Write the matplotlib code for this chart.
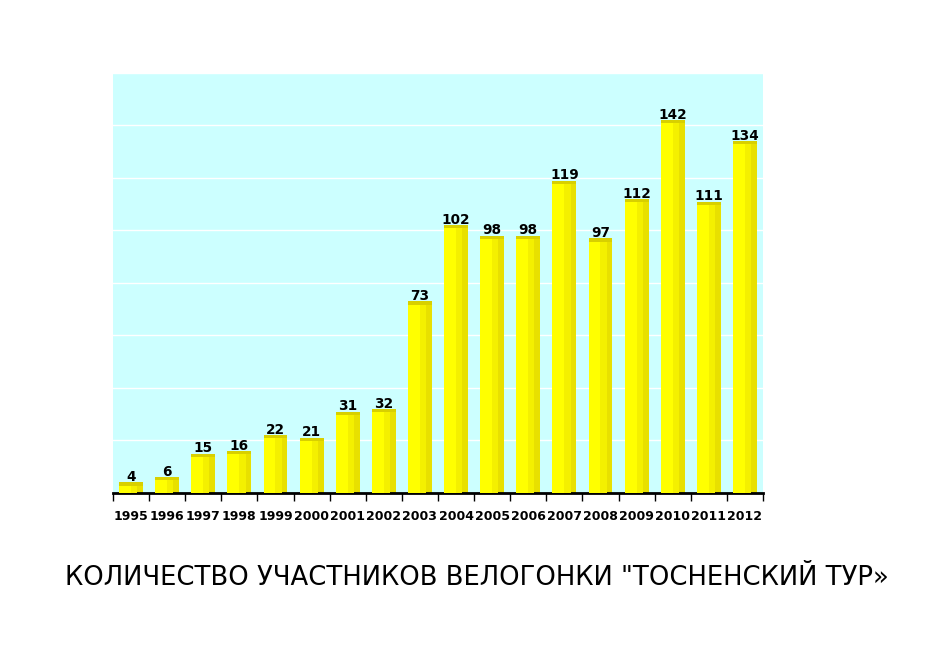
import matplotlib.pyplot as plt
import numpy as np

years = ["1995", "1996", "1997", "1998", "1999", "2000", "2001", "2002", "2003",
         "2004", "2005", "2006", "2007", "2008", "2009", "2010", "2011", "2012"]
riders = [4, 6, 15, 16, 22, 21, 31, 32, 73, 102, 98, 98, 119, 97, 112, 142, 111, 134]
title = 'КОЛИЧЕСТВО УЧАСТНИКОВ ВЕЛОГОНКИ "ТОСНЕНСКИЙ ТУР»'

fig = plt.figure(figsize=(9.43, 6.54), dpi=100)
ax = fig.add_axes([0.1198, 0.2462, 0.6893, 0.6422])
ax.set_facecolor("#ccffff")

x = np.arange(len(years))
w = 0.66
# shaded bars: bright left, darker right
ax.bar(x, riders, width=w, color="#e8e000", zorder=2)
ax.bar(x - w * 0.12, riders, width=w * 0.76, color="#f4f000", zorder=3)
ax.bar(x - w * 0.25, riders, width=w * 0.5, color="#ffff00", zorder=4)
# darker top rim
ax.bar(x, [1.2] * len(x), bottom=np.array(riders) - 1.2, width=w, color="#d8d000", zorder=5)

for xi, v in zip(x, riders):
    ax.text(xi, v - 0.6, str(v), ha="center", va="bottom", fontsize=9.8,
            fontweight="bold", zorder=6)

ax.set_xlim(-0.5, len(years) - 0.5)
ax.set_ylim(0, 160)
ax.set_yticks(np.arange(20, 161, 20))
ax.yaxis.grid(True, color="white", linewidth=1)
ax.set_axisbelow(True)
ax.tick_params(axis="y", left=False, labelleft=False)

ax.set_xticks(x)
ax.set_xticklabels(years, fontsize=9, fontweight="bold")
ax.set_xticks(np.arange(-0.5, len(years), 1), minor=True)
ax.tick_params(axis="x", which="major", length=0, pad=12)
ax.tick_params(axis="x", which="minor", length=6, width=1, direction="out")

for s in ["left", "right", "top"]:
    ax.spines[s].set_visible(False)
ax.spines["bottom"].set_linewidth(2)

fig.text(0.506, 0.116, title, ha="center", va="center", fontsize=18.6)

plt.savefig("out.png")
